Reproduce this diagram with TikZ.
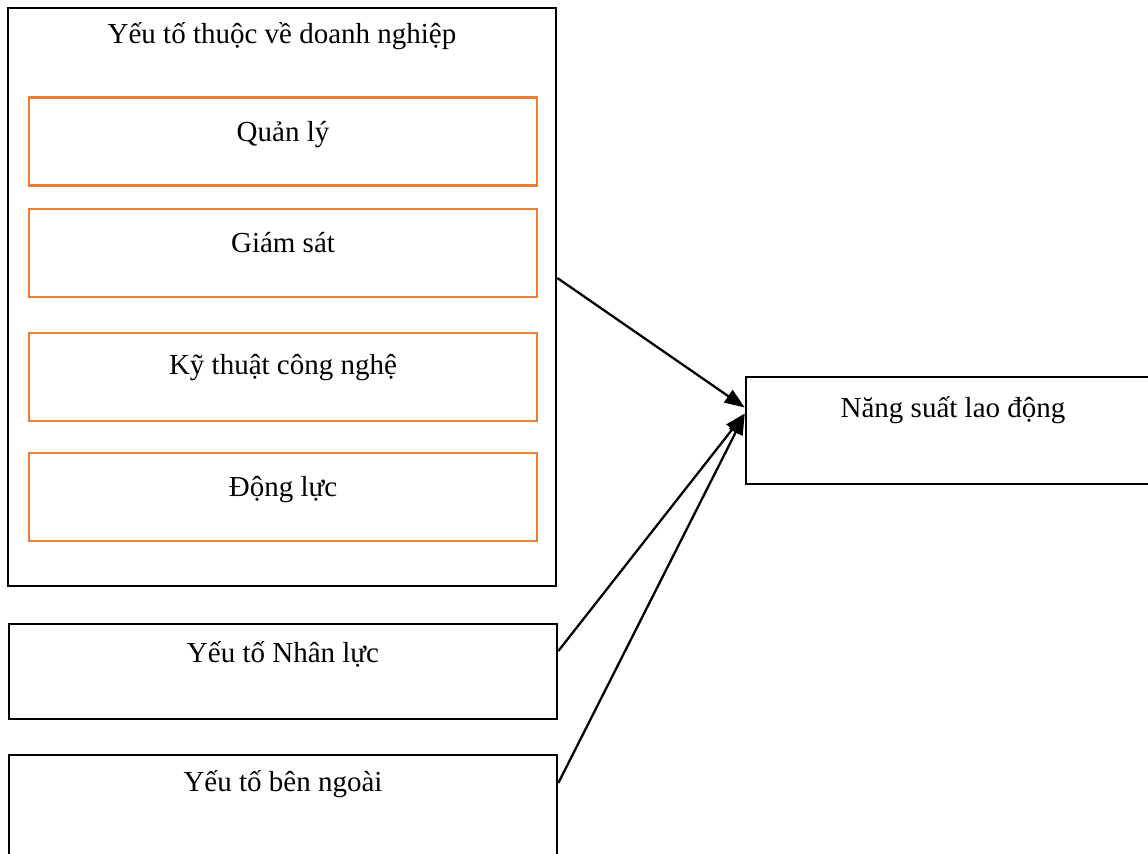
\documentclass[tikz,border=0pt]{standalone}
\usepackage{fontspec}
\setmainfont{Liberation Serif}
\usepackage{tikz}
\usetikzlibrary{arrows.meta,calc}
\definecolor{orangeline}{RGB}{237,125,49}

\begin{document}
\begin{tikzpicture}[
  blackbox/.style={draw=black, line width=1.5pt, rectangle, inner sep=0pt},
  orangebox/.style={draw=orangeline, line width=1.2pt, rectangle, inner sep=0pt, minimum width=10.16cm, minimum height=1.76cm},
  boxtext/.style={anchor=base, inner sep=0pt, font=\fontsize{16.5}{19}\selectfont},
  link/.style={draw=black, line width=1.3pt, -{Triangle[length=0.4cm,width=0.3cm]}}
]
\useasboundingbox (0cm,0cm) rectangle (22.96cm,-17.06cm);
\node[blackbox, minimum width=10.96cm, minimum height=11.56cm] (dn) at (5.64cm,-5.94cm) {};
\node[boxtext] (dntext) at ([yshift=-0.74cm]dn.north) {Yếu tố thuộc về doanh nghiệp};
\node[orangebox] (ql) at (5.66cm,-2.83cm) {};
\node[orangebox] (gs) at (5.66cm,-5.06cm) {};
\node[orangebox] (ktcn) at (5.66cm,-7.54cm) {};
\node[orangebox] (dl) at (5.66cm,-9.94cm) {};
\node[boxtext] (qltext) at ([yshift=-0.9cm]ql.north) {Quản lý};
\node[boxtext] (gstext) at ([yshift=-0.9cm]gs.north) {Giám sát};
\node[boxtext] (ktcntext) at ([yshift=-0.86cm]ktcn.north) {Kỹ thuật công nghệ};
\node[boxtext] (dltext) at ([yshift=-0.9cm]dl.north) {Động lực};
\node[blackbox, minimum width=10.96cm, minimum height=1.9cm] (nl) at (5.66cm,-13.43cm) {};
\node[boxtext] (nltext) at ([yshift=-0.8cm]nl.north) {Yếu tố Nhân lực};
\node[blackbox, minimum width=10.96cm, minimum height=2.1cm] (bn) at (5.66cm,-16.15cm) {};
\node[boxtext] (bntext) at ([yshift=-0.76cm]bn.north) {Yếu tố bên ngoài};
\node[blackbox, minimum width=8.28cm, minimum height=2.14cm] (nsld) at (19.06cm,-8.61cm) {};
\node[boxtext] (nsldtext) at ([yshift=-0.84cm]nsld.north) {Năng suất lao động};
\draw[link] ([yshift=0.38cm]dn.east) -- ([yshift=0.46cm]nsld.west);
\draw[link] ([yshift=0.41cm]nl.east) -- ([yshift=0.34cm]nsld.west);
\draw[link] ([yshift=0.49cm]bn.east) -- ([yshift=0.32cm]nsld.west);
\end{tikzpicture}
\end{document}
